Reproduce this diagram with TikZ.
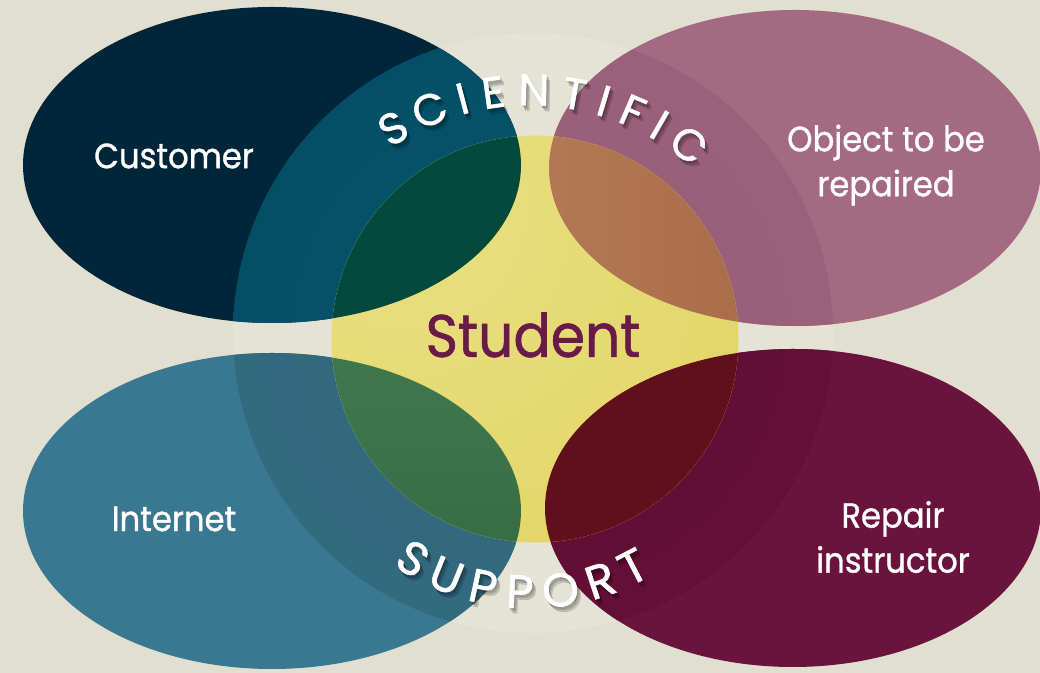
\documentclass[tikz,border=0pt]{standalone}
\usepackage{fontspec}
\newfontfamily\fut[FakeStretch=0.92, FakeBold=1.0]{Poppins}
\newfontfamily\futarc[FakeBold=1.2]{Poppins}
\usetikzlibrary{calc}
\definecolor{bgc}{HTML}{E0DFD0}
\definecolor{bgin}{HTML}{E4E3D5}
\definecolor{navyc}{HTML}{022639}
\definecolor{mauvec}{HTML}{A36A82}
\definecolor{tealc}{HTML}{3A7790}
\definecolor{maroonc}{HTML}{6A133C}
\definecolor{ovnavy}{HTML}{044A3C}
\definecolor{ovmaroon}{HTML}{620F1C}
\definecolor{studc}{HTML}{6A1A48}
\pgfdeclareradialshading{navyglow}{\pgfpoint{0bp}{0bp}}{rgb(0bp)=(0.02,0.34,0.44); rgb(33bp)=(0.016,0.30,0.39); rgb(50bp)=(0.01,0.18,0.25)}
\pgfdeclareradialshading{mauveglow}{\pgfpoint{0bp}{0bp}}{rgb(0bp)=(0.6,0.37,0.47); rgb(33bp)=(0.61,0.38,0.48); rgb(50bp)=(0.635,0.405,0.505)}
\pgfdeclareradialshading{tealglow}{\pgfpoint{0bp}{0bp}}{rgb(0bp)=(0.19,0.40,0.48); rgb(33bp)=(0.2,0.42,0.50); rgb(50bp)=(0.22,0.455,0.54)}
\pgfdeclareradialshading{maroonglow}{\pgfpoint{0bp}{0bp}}{rgb(0bp)=(0.38,0.055,0.205); rgb(33bp)=(0.39,0.062,0.215); rgb(50bp)=(0.43,0.085,0.25)}
\pgfdeclareradialshading{yellowglow}{\pgfpoint{-20bp}{20bp}}{rgb(0bp)=(0.92,0.88,0.52); rgb(50bp)=(0.88,0.83,0.38); rgb(80bp)=(0.86,0.79,0.30)}
\tikzset{
  label/.style={text=white, font=\fut\fontsize{35bp}{45bp}\selectfont, align=center, inner sep=0pt},
  arcA/.style={font=\futarc\fontsize{44bp}{46bp}\selectfont, inner sep=0pt},
  arcB/.style={font=\futarc\fontsize{47bp}{50bp}\selectfont, inner sep=0pt},
  shadowtxt/.style={text=black, text opacity=0.13}
}
\begin{document}
\begin{tikzpicture}[x=1bp,y=1bp]
\useasboundingbox (0,0) rectangle (1040,673);
\clip (0,0) rectangle (1040,673);
\fill[bgc] (0,0) rectangle (1040,673);
\coordinate (bc) at (533,340);
\fill[bgin] (bc) circle (300);
% ellipses
\fill[navyc] (272,508) ellipse [x radius=249, y radius=158];
\fill[mauvec] (795,505) ellipse [x radius=246, y radius=158];
\fill[tealc] (272,162) ellipse [x radius=249, y radius=158];
\fill[maroonc] (793,165) ellipse [x radius=248, y radius=159];
\begin{scope}
\clip (272,508) ellipse [x radius=249, y radius=158];
\shade[shading=navyglow] (bc) circle (300);
\end{scope}
\begin{scope}
\clip (795,505) ellipse [x radius=246, y radius=158];
\shade[shading=mauveglow] (bc) circle (300);
\end{scope}
\begin{scope}
\clip (272,162) ellipse [x radius=249, y radius=158];
\shade[shading=tealglow] (bc) circle (300);
\end{scope}
\begin{scope}
\clip (793,165) ellipse [x radius=248, y radius=159];
\shade[shading=maroonglow] (bc) circle (300);
\end{scope}
% yellow circle
\shade[shading=yellowglow] (535,334) circle (203.5);
\begin{scope}
\clip (535,334) circle (203.5);
\fill[ovnavy] (272,508) ellipse [x radius=249, y radius=158];
\shade[left color={rgb,255:red,178;green,120;blue,84}, right color={rgb,255:red,160;green,92;blue,56}] (795,505) ellipse [x radius=246, y radius=158];
\shade[top color={rgb,255:red,64;green,120;blue,78}, bottom color={rgb,255:red,50;green,102;blue,62}] (272,162) ellipse [x radius=249, y radius=158];
\fill[ovmaroon] (793,165) ellipse [x radius=248, y radius=159];
\end{scope}
% labels
\node[label] (cust) at (174,517) {Customer};
\node[label] (obj) at (886,508) {Object to be\\repaired};
\node[label] (inet) at (174,154) {Internet};
\node[label] (rep) at (893,136) {Repair\\instructor};
\node[text=studc, font=\fut\fontsize{60bp}{60bp}\selectfont, inner sep=0pt] (stud) at (533,338) {Student};
% curved words
\foreach \c/\a [count=\i] in {S/121.4,C/112.4,I/104.8,E/97.9,N/88.9,T/80.0,I/73.3,F/66.6,I/60.0,C/52.2} {
  \foreach \o in {1,2,3}
    \node[arcA, shadowtxt, rotate=\a-90] (scis\i-\o) at ($(529,322)+(\a:261)+(1.2*\o,-1.8*\o)$) {\c};
  \node[arcA, text=white, rotate=\a-90] (sci\i) at ($(529,322)+(\a:261)$) {\c};
}
\foreach \c/\a [count=\i] in {S/-121.8,U/-112.1,P/-102.2,P/-92.6,O/-82.1,R/-71.5,T/-62.4} {
  \foreach \o in {1,2,3}
    \node[arcB, shadowtxt, rotate=\a+90] (sups\i-\o) at ($(530,303)+(\a:222)+(1.2*\o,-1.8*\o)$) {\c};
  \node[arcB, text=white, rotate=\a+90] (sup\i) at ($(530,303)+(\a:222)$) {\c};
}
\end{tikzpicture}
\end{document}
